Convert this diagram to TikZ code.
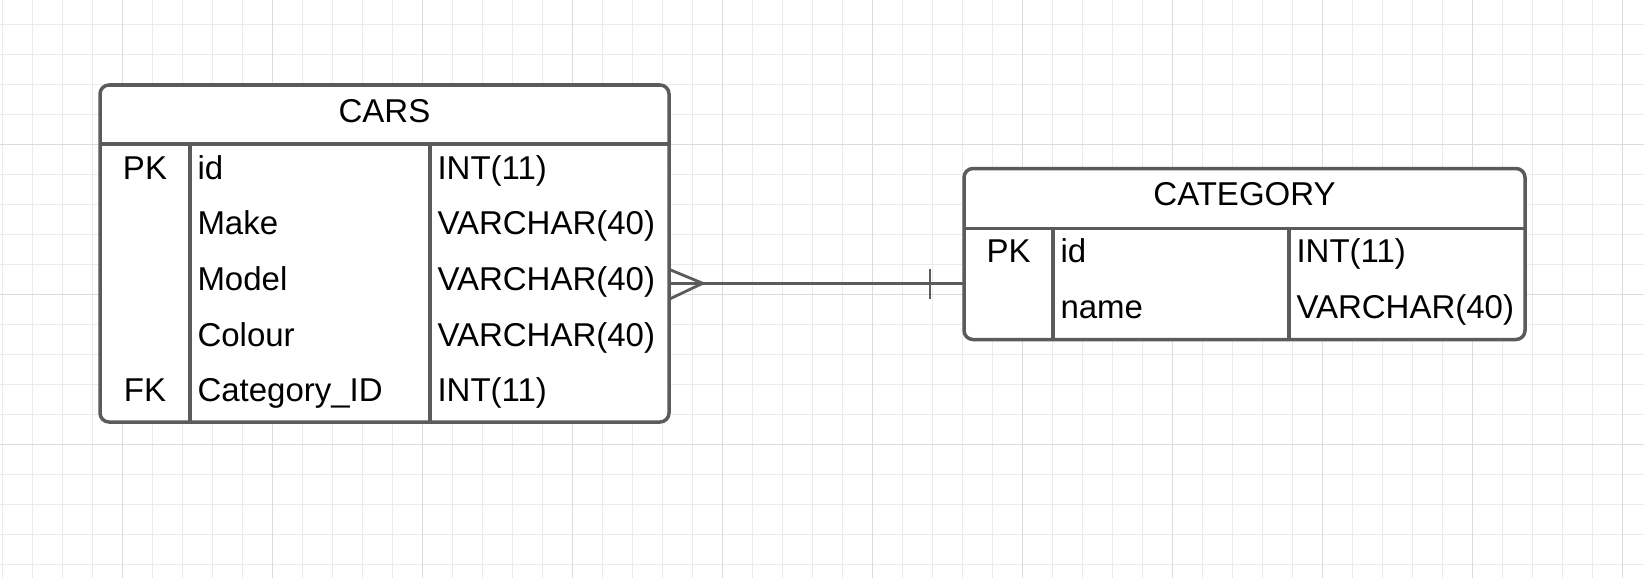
\documentclass[tikz,border=0pt]{standalone}
\usepackage{fontspec}
\setmainfont{Liberation Sans}
\definecolor{gridminor}{HTML}{EBEBEB}
\definecolor{gridmajor}{HTML}{DCDCDC}
\definecolor{edgegray}{HTML}{5B5B5B}
\begin{document}
\begin{tikzpicture}[x=1pt,y=-1pt,
  tbl/.style={rectangle, draw=edgegray, line width=3.5pt, fill=white, rounded corners=9pt, inner sep=0pt, outer sep=0pt},
  sepline/.style={draw=edgegray, line width=3.5pt},
  colline/.style={draw=edgegray, line width=3.2pt},
  txt/.style={inner sep=0pt, outer sep=0pt, anchor=base west, font=\fontsize{33}{40}\selectfont, text=black},
  ctxt/.style={inner sep=0pt, outer sep=0pt, anchor=base, font=\fontsize{33}{40}\selectfont, text=black},
  rel/.style={draw=edgegray, line width=2.8pt}]
\useasboundingbox (0,0) rectangle (1644,578);
\fill[white] (0,0) rectangle (1644,578);
% grid
\foreach \k in {0,...,54} {\draw[gridminor, line width=1pt] ({2.7+30*\k},0) -- ({2.7+30*\k},578);}
\foreach \k in {0,...,18} {\draw[gridminor, line width=1pt] (0,{24.3+30*\k}) -- (1644,{24.3+30*\k});}
\foreach \k in {0,...,10} {\draw[gridmajor, line width=1pt] ({122.7+150*\k},0) -- ({122.7+150*\k},578);}
\foreach \k in {0,...,2} {\draw[gridmajor, line width=1pt] (0,{144.3+150*\k}) -- (1644,{144.3+150*\k});}

% CARS table
\node[tbl, minimum width=569pt, minimum height=337pt] (cars) at (384.5,253.5) {};
\coordinate (cHead) at (0,144);
\coordinate (cCol1) at (190,144);
\coordinate (cCol2) at (430,144);
\draw[sepline] (cars.west |- cHead) -- (cars.east |- cHead);
\draw[colline] (cCol1) -- (cCol1 |- cars.south);
\draw[colline] (cCol2) -- (cCol2 |- cars.south);
\node[ctxt] (carsT) at (384.5,122) {CARS};
\node[ctxt] (c-pk) at (145,179.3) {PK};
\node[ctxt] (c-fk) at (145,401.7) {FK};
\node[txt] (c-f1) at (197.5,179.3) {id};
\node[txt] (c-f2) at (197.5,234.9) {Make};
\node[txt] (c-f3) at (197.5,290.5) {Model};
\node[txt] (c-f4) at (197.5,346.1) {Colour};
\node[txt] (c-f5) at (197.5,401.7) {Category\_ID};
\node[txt] (c-t1) at (437.5,179.3) {INT(11)};
\node[txt] (c-t2) at (437.5,234.9) {VARCHAR(40)};
\node[txt] (c-t3) at (437.5,290.5) {VARCHAR(40)};
\node[txt] (c-t4) at (437.5,346.1) {VARCHAR(40)};
\node[txt] (c-t5) at (437.5,401.7) {INT(11)};

% CATEGORY table
\node[tbl, minimum width=561pt, minimum height=171pt] (cat) at (1244.5,254) {};
\coordinate (gHead) at (0,228.3);
\coordinate (gCol1) at (1053,228.3);
\coordinate (gCol2) at (1289,228.3);
\draw[sepline] (cat.west |- gHead) -- (cat.east |- gHead);
\draw[colline] (gCol1) -- (gCol1 |- cat.south);
\draw[colline] (gCol2) -- (gCol2 |- cat.south);
\node[ctxt] (catT) at (1244.5,205) {CATEGORY};
\node[ctxt] (g-pk) at (1008.5,262.7) {PK};
\node[txt] (g-f1) at (1060.5,262.7) {id};
\node[txt] (g-f2) at (1060.5,318.3) {name};
\node[txt] (g-t1) at (1296.5,262.7) {INT(11)};
\node[txt] (g-t2) at (1296.5,318.3) {VARCHAR(40)};

% relationship
\coordinate (relY) at (0,283.3);
\coordinate (crowUp) at (0,269.3);
\coordinate (crowDn) at (0,299.3);
\coordinate (crow) at (702.7,283.3);
\coordinate (tick) at (930,283.3);
\draw[rel] (cars.east |- relY) -- (cat.west |- relY);
\draw[rel] (cars.east |- crowUp) -- (crow) -- (cars.east |- crowDn);
\draw[rel] (tick |- crowUp) -- (tick |- crowDn);
\end{tikzpicture}
\end{document}
